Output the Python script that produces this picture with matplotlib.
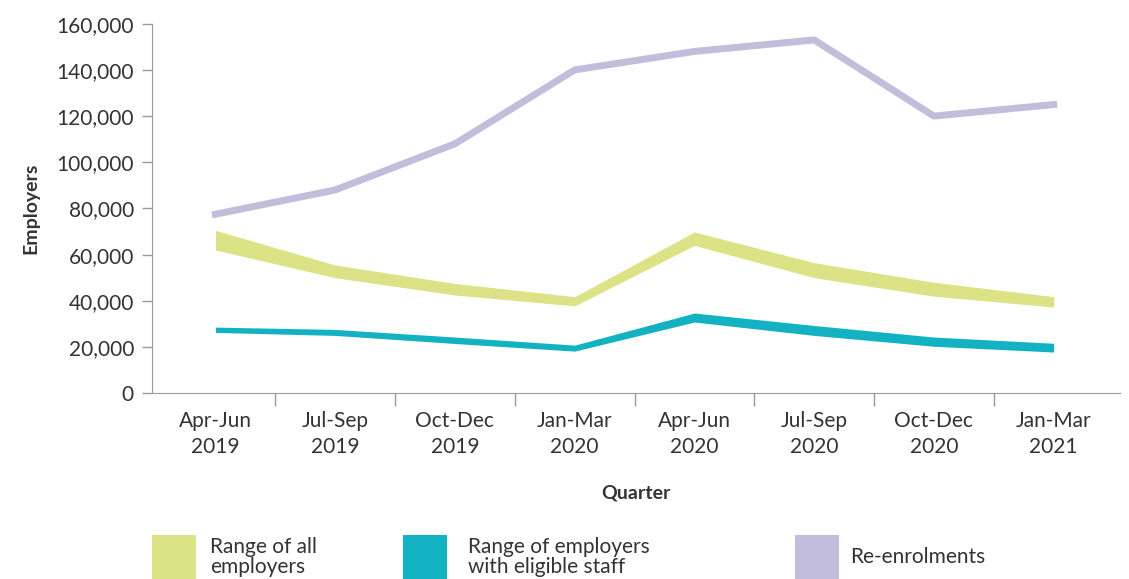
import matplotlib
matplotlib.use('Agg')
import matplotlib.pyplot as plt
from matplotlib.patches import Rectangle
import numpy as np

# Quarterly data
quarters = ['Apr-Jun\n2019', 'Jul-Sep\n2019', 'Oct-Dec\n2019', 'Jan-Mar\n2020',
            'Apr-Jun\n2020', 'Jul-Sep\n2020', 'Oct-Dec\n2020', 'Jan-Mar\n2021']
all_low = [62000, 50000, 42500, 37800, 64000, 50000, 42000, 37300]
all_high = [70500, 55500, 47500, 41800, 69800, 56500, 48000, 41800]
eligible_low = [26300, 25000, 21500, 18200, 30800, 25000, 20300, 17800]
eligible_high = [28600, 27600, 24300, 20800, 34700, 29300, 24300, 21600]
reenrolments = [77500, 88000, 108000, 140000, 148000, 153000, 120000, 125000]

GREEN = '#dbe386'
TEAL = '#13b2c2'
LAVENDER = '#c1bddb'
GREY = '#9a9a9a'
TEXT = '#333333'

plt.rcParams['font.family'] = ['Lato', 'DejaVu Sans']

fig = plt.figure(figsize=(11.29, 5.79), dpi=100)
ax = fig.add_axes([0.1346, 0.321, 0.857, 0.638])

x = np.arange(len(quarters))
ax.fill_between(x, all_low, all_high, color=GREEN, lw=0)
ax.fill_between(x, eligible_low, eligible_high, color=TEAL, lw=0)
ax.plot(x, reenrolments, color=LAVENDER, lw=5, solid_joinstyle='round')

ax.set_xlim(-0.53, 7.55)
ax.set_ylim(0, 160000)
ax.set_yticks(np.arange(0, 160001, 20000))
ax.set_yticklabels([f'{v:,}' for v in range(0, 160001, 20000)], fontsize=15, color=TEXT)

ax.set_xticks(x)
ax.set_xticklabels(quarters, fontsize=15, color=TEXT, linespacing=1.35)
ax.set_xticks(np.arange(0.5, 7.5, 1), minor=True)
ax.tick_params(axis='x', which='major', length=0, pad=13)
ax.tick_params(axis='x', which='minor', length=9, color=GREY, width=1)
ax.tick_params(axis='y', length=7, color=GREY, width=1, pad=6)

for s in ['top', 'right']:
    ax.spines[s].set_visible(False)
for s in ['left', 'bottom']:
    ax.spines[s].set_color(GREY)

ax.set_xlabel('Quarter', fontsize=14, fontweight='bold', color=TEXT, labelpad=20)
ax.set_ylabel('Employers', fontsize=14, fontweight='bold', color=TEXT, labelpad=12)

# Legend drawn by hand below the chart
legend_items = [(GREEN, 'Range of all\nemployers', 152, 210),
                (TEAL, 'Range of employers\nwith eligible staff', 403, 468),
                (LAVENDER, 'Re-enrolments', 795, 850)]
W, H = 1129, 579
for color, label, px, tx in legend_items:
    fig.add_artist(Rectangle((px / W, 0), 44 / W, 44 / H, transform=fig.transFigure,
                             color=color, lw=0))
    fig.text(tx / W, 22 / H, label, fontsize=15, color=TEXT, va='center', ha='left',
             linespacing=1.05)

fig.savefig('out.png', dpi=100)
